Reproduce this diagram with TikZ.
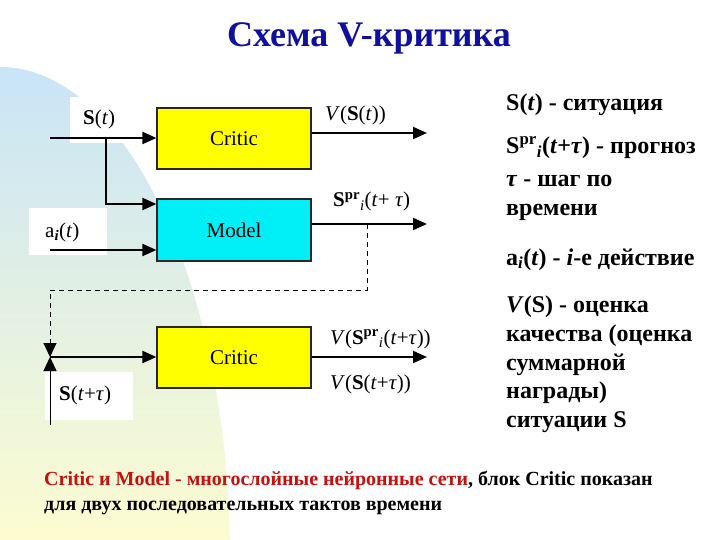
\documentclass[tikz,border=0pt]{standalone}
\usepackage{fontspec}
\setmainfont{Liberation Serif}
\usetikzlibrary{arrows.meta}
\definecolor{titleblue}{RGB}{16,16,160}
\definecolor{darkred}{RGB}{200,16,16}
\definecolor{bgtop}{RGB}{200,228,248}
\definecolor{bgmid}{RGB}{226,242,228}
\definecolor{bgbot}{RGB}{252,252,208}
\definecolor{boxyellow}{RGB}{255,255,0}
\definecolor{boxcyan}{RGB}{0,238,245}
\begin{document}
\begin{tikzpicture}[x=1pt,y=-1pt,
 blk/.style={draw=black!85, line width=1.2pt, minimum width=154pt, minimum height=61pt, inner sep=0pt, font=\fontsize{21}{24}\selectfont},
 arr/.style={line width=2pt, -{Triangle[length=14pt,width=12pt]}},
 tip/.style={-{Triangle[length=14pt,width=13pt]}},
 lbl/.style={anchor=base west, inner sep=0pt, font=\fontsize{21}{24}\selectfont},
 rt/.style={anchor=base west, inner sep=0pt, font=\fontsize{24}{28}\selectfont\bfseries},
 bt/.style={anchor=base west, inner sep=0pt, font=\fontsize{20}{24}\selectfont\bfseries}]
\useasboundingbox (0,0) rectangle (720,540);
\fill[white] (0,0) rectangle (720,540);
\begin{scope}
\clip (0,560) ellipse [x radius=230, y radius=493];
\shade[top color=bgtop, middle color=bgmid, bottom color=bgbot] (0,60) rectangle (240,540);
\end{scope}
% white label backgrounds
\fill[white] (70,97) rectangle (135,143);
\fill[white] (29,208) rectangle (107,255);
\fill[white] (45,372) rectangle (133,420);
% title
\node[anchor=base, inner sep=0pt, text=titleblue, font=\fontsize{36}{40}\selectfont\bfseries] (title) at (369,47) {Схема V-критика};
% blocks
\node[blk, fill=boxyellow] (c1) at (234,138.5) {Critic};
\node[blk, fill=boxcyan, minimum height=62pt] (m) at (234,230) {Model};
\node[blk, fill=boxyellow] (c2) at (234,357.5) {Critic};
% coordinates
\coordinate (s0) at (50,138);
\coordinate (br) at (106,138);
\coordinate (mi1) at (106,204);
\coordinate (a0) at (50,250);
\coordinate (o1) at (427,133);
\coordinate (o2) at (427,224);
\coordinate (o3) at (427,357);
\coordinate (dd) at (367,224);
\coordinate (dl) at (50,290);
\coordinate (jn) at (50,357);
\coordinate (s1) at (50,425);
% connectors
\draw[arr] (s0) -- (s0 -| c1.west);
\draw[arr] (br) |- (m.west |- mi1);
\draw[arr] (a0) -- (a0 -| m.west);
\draw[arr] (c1.east |- o1) -- (o1);
\draw[arr] (m.east |- o2) -- (o2);
\draw[arr] (c2.east |- o3) -- (o3);
\draw[line width=1pt, dash pattern=on 5pt off 4pt, tip] (dd) |- (dl) -- (jn);
\draw[line width=1pt, tip] (s1) -- (jn);
\draw[arr] (jn) -- (jn -| c2.west);
% diagram labels
\node[lbl] (ls) at (83,125) {\textbf{S}(\textit{t})};
\node[lbl] (lv1) at (325,121) {\textit{V}(\textbf{S}(\textit{t}))};
\node[lbl] (lsp) at (333,207) {\textbf{S}\textsuperscript{\textbf{pr}}\textsubscript{\textit{i}}(\textit{t}+ \textit{τ})};
\node[lbl] (la) at (45,237) {a\textsubscript{\textbf{\textit{i}}}(\textit{t})};
\node[lbl] (lv2) at (330,344) {\textit{V}(\textbf{S}\textsuperscript{\textbf{pr}}\textsubscript{\textit{i}}(\textit{t}+\textit{τ}))};
\node[lbl] (lv3) at (330,389) {\textit{V}(\textbf{S}(\textit{t}+\textit{τ}))};
\node[lbl] (ls2) at (59,400) {\textbf{S}(\textit{t}+\textit{τ})};
% right legend
\node[rt] (r1) at (506,111) {S(\textit{t}) - ситуация};
\node[rt] (r2) at (506,154) {S\textsuperscript{pr}\textsubscript{\textit{i}}(\textit{t}+\textit{τ}) - прогноз};
\node[rt] (r3) at (506,187) {\textit{τ} - шаг по};
\node[rt] (r4) at (506,215) {времени};
\node[rt] (r5) at (506,265) {a\textsubscript{\textit{i}}(\textit{t}) - \textit{i}-е действие};
\node[rt] (r6) at (506,312) {\textit{V}(S) - оценка};
\node[rt] (r7) at (506,341) {качества (оценка};
\node[rt] (r8) at (506,370) {суммарной};
\node[rt] (r9) at (506,398) {награды)};
\node[rt] (r10) at (506,427) {ситуации S};
% bottom text
\node[bt] (b1) at (44,485) {\textcolor{darkred}{Critic и Model - многослойные нейронные сети}, блок Critic показан};
\node[bt] (b2) at (44,510) {для двух последовательных тактов времени};
\end{tikzpicture}
\end{document}
